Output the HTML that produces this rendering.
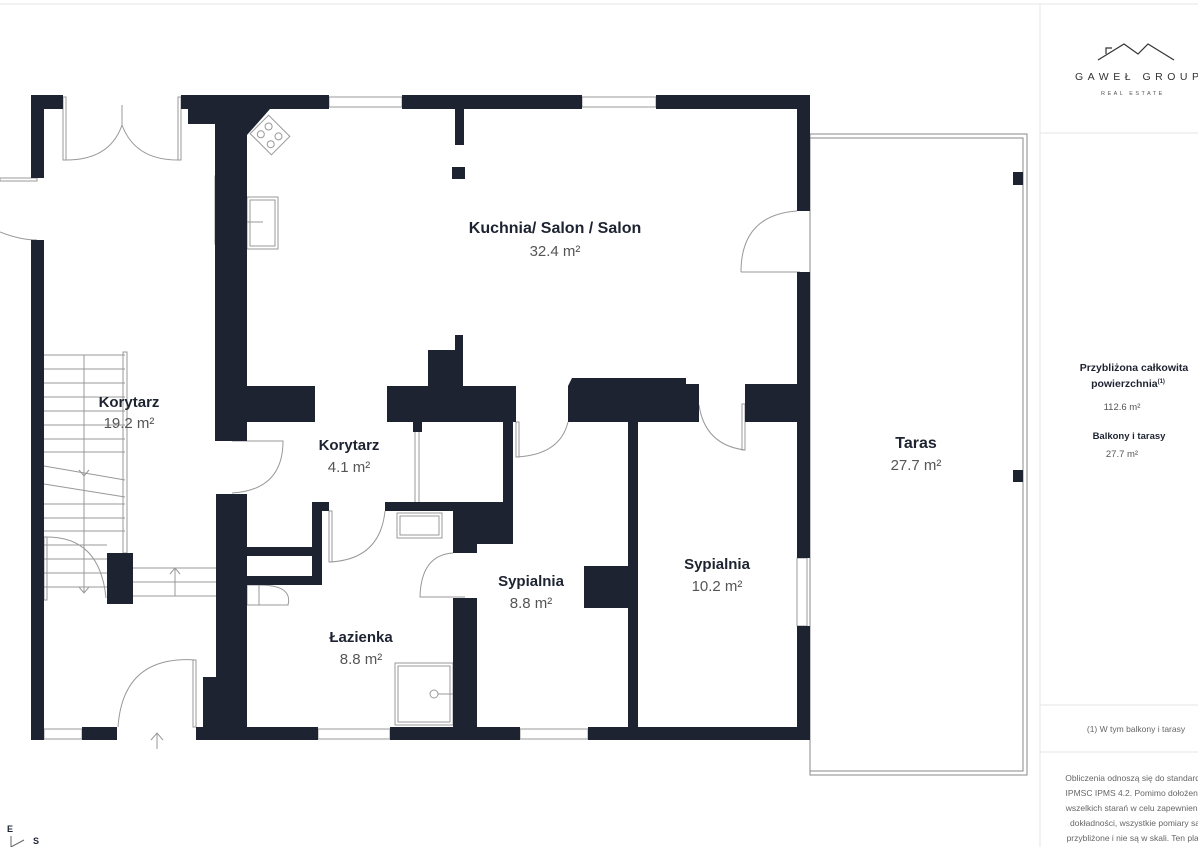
<!DOCTYPE html>
<html><head><meta charset="utf-8"><style>
html,body{margin:0;padding:0;background:#fff;width:1198px;height:847px;overflow:hidden}
svg{display:block}
text{font-family:"Liberation Sans",sans-serif}
</style></head><body>
<svg width="1198" height="847" viewBox="0 0 1198 847" xmlns="http://www.w3.org/2000/svg">
<rect width="1198" height="847" fill="#fff"/>
<line x1="0" y1="4" x2="1198" y2="4" stroke="#e6e6e6"/>
<!-- right panel -->
<line x1="1040" y1="4" x2="1040" y2="847" stroke="#e6e6e6"/>
<line x1="1040" y1="133" x2="1198" y2="133" stroke="#e6e6e6"/>
<line x1="1040" y1="705" x2="1198" y2="705" stroke="#e6e6e6"/>
<line x1="1040" y1="752" x2="1198" y2="752" stroke="#e6e6e6"/>
<polyline points="1098,60 1124,44 1138,54 1148,44 1174,60" fill="none" stroke="#333" stroke-width="1.2"/>
<polyline points="1106,54 1106,48 1112,48" fill="none" stroke="#333" stroke-width="1.2"/>
<text x="1075" y="80" font-size="10.5" fill="#333" letter-spacing="4.5">GAWEŁ GROUP</text>
<text x="1101" y="95" font-size="5.5" fill="#555" letter-spacing="2.5">REAL ESTATE</text>
<g font-size="10.5" fill="#1d2330" text-anchor="middle">
<text x="1134" y="371" font-weight="bold">Przybliżona całkowita</text>
<text x="1128" y="387" font-weight="bold">powierzchnia<tspan font-size="6" dy="-4">(1)</tspan></text>
<text x="1122" y="410" font-size="9.5" fill="#555">112.6 m²</text>
<text x="1129" y="439" font-size="9.5" font-weight="bold">Balkony i tarasy</text>
<text x="1122" y="457" font-size="9.5" fill="#555">27.7 m²</text>
<text x="1136" y="732" font-size="8.5" fill="#666">(1) W tym balkony i tarasy</text>
<g font-size="8.5" fill="#666">
<text x="1135" y="781">Obliczenia odnoszą się do standardu</text>
<text x="1135" y="796">IPMSC IPMS 4.2. Pomimo dołożenia</text>
<text x="1135" y="811">wszelkich starań w celu zapewnienia</text>
<text x="1135" y="826">dokładności, wszystkie pomiary są</text>
<text x="1135" y="841">przybliżone i nie są w skali. Ten plan</text>
<text x="1135" y="856">piętra ma charakter poglądowy</text>
</g></g>
<!-- terrace -->
<rect x="810" y="134" width="217" height="641" fill="none" stroke="#888" stroke-width="1"/>
<rect x="810" y="138" width="213" height="633" fill="none" stroke="#888" stroke-width="1"/>
<rect x="1013" y="172" width="10" height="13" fill="#1d2330"/>
<rect x="1013" y="470" width="10" height="12" fill="#1d2330"/>
<!-- light window/door lines -->
<g fill="none" stroke="#999" stroke-width="1">
<rect x="0" y="178" width="37" height="3"/>
<rect x="63" y="97" width="3" height="63"/><rect x="178" y="97" width="3" height="63"/>
<path d="M66 160 Q110 160 122 125 L122 105"/><path d="M178 160 Q135 160 122 125"/>
<path d="M0 232 Q20 240 37 240"/>
<rect x="329" y="97" width="73" height="10"/><rect x="582" y="97" width="74" height="10"/>
<rect x="215" y="176" width="6" height="68"/>
<rect x="797" y="558" width="10" height="68"/>
<rect x="44" y="729" width="38" height="10"/><rect x="318" y="729" width="72" height="10"/><rect x="520" y="729" width="68" height="10"/>
<path d="M741 272 Q741 215 797 211"/><line x1="741" y1="272" x2="800" y2="272"/>
<path d="M232 441 L283 441 Q283 490 232 493"/>
<path d="M196 660 Q123 655 118 727"/><rect x="193" y="660" width="3" height="67"/>
<path d="M329 511 L329 562 Q380 560 385 511"/><rect x="329" y="511" width="3" height="51"/>
<path d="M453 553 Q421 555 420 597 L465 597"/>
<path d="M516 422 L516 457 Q560 455 568 422"/><rect x="516" y="422" width="3" height="35"/>
<path d="M699 405 Q705 445 745 450"/><rect x="742" y="404" width="3" height="46"/>
<line x1="415" y1="422" x2="415" y2="502"/><line x1="419" y1="422" x2="419" y2="502"/>
<rect x="397" y="513" width="45" height="25"/><rect x="400" y="516" width="39" height="19"/>
<rect x="395" y="663" width="58" height="62"/><rect x="398" y="666" width="52" height="56"/>
<circle cx="434" cy="694" r="4"/><line x1="438" y1="694" x2="453" y2="694"/>
<rect x="247" y="197" width="31" height="52"/><rect x="250" y="200" width="25" height="46"/>
<line x1="247" y1="222" x2="263" y2="222"/>
<rect x="247" y="585" width="12" height="20"/><path d="M259 585 Q293 585 288 605 L259 605"/>
<g transform="rotate(45 270 135)"><rect x="255" y="122" width="30" height="26"/><circle cx="263" cy="130" r="3.5"/><circle cx="277" cy="130" r="3.5"/><circle cx="263" cy="141" r="3.5"/><circle cx="277" cy="141" r="3.5"/></g>
<!-- stairs -->
<g stroke="#999">
<line x1="44" y1="355" x2="125" y2="355"/><line x1="44" y1="369" x2="125" y2="369"/><line x1="44" y1="383" x2="125" y2="383"/>
<line x1="44" y1="397" x2="125" y2="397"/><line x1="44" y1="411" x2="125" y2="411"/><line x1="44" y1="425" x2="125" y2="425"/>
<line x1="44" y1="439" x2="125" y2="439"/><line x1="44" y1="452" x2="125" y2="452"/><line x1="44" y1="466" x2="125" y2="480"/>
<line x1="44" y1="484" x2="125" y2="497"/><line x1="44" y1="504" x2="125" y2="504"/><line x1="44" y1="518" x2="125" y2="518"/>
<line x1="44" y1="531" x2="125" y2="531"/><line x1="44" y1="545" x2="107" y2="545"/><line x1="44" y1="559" x2="107" y2="559"/>
<line x1="44" y1="573" x2="107" y2="573"/><line x1="44" y1="587" x2="107" y2="587"/>
<line x1="84" y1="355" x2="84" y2="593"/>
<line x1="133" y1="568" x2="216" y2="568"/><line x1="133" y1="582" x2="216" y2="582"/><line x1="133" y1="596" x2="216" y2="596"/>
<line x1="175" y1="568" x2="175" y2="596"/>
</g>
<rect x="123" y="352" width="4" height="201"/>
<rect x="44" y="537" width="3" height="63"/>
<path d="M47 537 Q100 537 106 598"/>
<polyline points="79,470 84,476 89,470"/><polyline points="79,587 84,593 89,587"/>
<polyline points="170,574 175,568 180,574"/>
<polyline points="151,740 157,733 163,740"/><line x1="157" y1="733" x2="157" y2="749"/>
</g>
<!-- walls -->
<g fill="#1d2330">
<rect x="31" y="95" width="13" height="83"/><rect x="31" y="95" width="32" height="14"/>
<rect x="31" y="240" width="13" height="500"/>
<rect x="181" y="95" width="148" height="14"/><rect x="402" y="95" width="180" height="14"/><rect x="656" y="95" width="154" height="14"/>
<rect x="188" y="95" width="27" height="29"/>
<polygon points="215,95 270,95 270,109 247,135 247,441 215,441"/>
<rect x="797" y="95" width="13" height="116"/><rect x="797" y="272" width="13" height="286"/><rect x="797" y="626" width="13" height="114"/>
<rect x="216" y="494" width="31" height="246"/><rect x="203" y="677" width="14" height="63"/>
<rect x="31" y="727" width="13" height="13"/><rect x="82" y="727" width="35" height="13"/>
<rect x="196" y="727" width="122" height="13"/><rect x="390" y="727" width="130" height="13"/><rect x="588" y="727" width="222" height="13"/>
<rect x="455" y="109" width="9" height="36"/><rect x="452" y="167" width="13" height="12"/>
<rect x="247" y="386" width="68" height="36"/>
<rect x="387" y="386" width="129" height="36"/><rect x="428" y="350" width="35" height="36"/><rect x="455" y="335" width="8" height="15"/>
<rect x="413" y="422" width="9" height="10"/>
<polygon points="572,378 686,378 686,384 699,384 699,422 568,422 568,386"/>
<rect x="745" y="384" width="52" height="38"/>
<rect x="503" y="422" width="10" height="122"/>
<rect x="453" y="502" width="60" height="42"/><rect x="453" y="544" width="24" height="9"/>
<rect x="385" y="502" width="68" height="9"/>
<rect x="312" y="502" width="17" height="9"/><rect x="312" y="502" width="10" height="83"/>
<rect x="247" y="547" width="65" height="9"/><rect x="247" y="576" width="75" height="9"/>
<rect x="453" y="598" width="24" height="129"/>
<rect x="628" y="422" width="10" height="305"/><rect x="584" y="566" width="44" height="42"/>
<rect x="107" y="553" width="26" height="51"/>
</g>
<!-- labels -->
<g text-anchor="middle" fill="#1d2330">
<text x="555" y="233" font-size="16" font-weight="bold">Kuchnia/ Salon / Salon</text>
<text x="555" y="256" font-size="15" fill="#555">32.4 m²</text>
<text x="129" y="407" font-size="15" font-weight="bold">Korytarz</text>
<text x="129" y="428" font-size="15" fill="#555">19.2 m²</text>
<text x="349" y="450" font-size="15" font-weight="bold">Korytarz</text>
<text x="349" y="472" font-size="15" fill="#555">4.1 m²</text>
<text x="916" y="448" font-size="16" font-weight="bold">Taras</text>
<text x="916" y="470" font-size="15" fill="#555">27.7 m²</text>
<text x="717" y="569" font-size="15" font-weight="bold">Sypialnia</text>
<text x="717" y="591" font-size="15" fill="#555">10.2 m²</text>
<text x="531" y="586" font-size="15" font-weight="bold">Sypialnia</text>
<text x="531" y="608" font-size="15" fill="#555">8.8 m²</text>
<text x="361" y="642" font-size="15" font-weight="bold">Łazienka</text>
<text x="361" y="664" font-size="15" fill="#555">8.8 m²</text>
<text x="10" y="832" font-size="9" font-weight="bold">E</text>
<text x="36" y="844" font-size="9" font-weight="bold">S</text>
</g>
<g stroke="#666"><line x1="11" y1="836" x2="11" y2="847"/><line x1="11" y1="847" x2="24" y2="840"/></g>
</svg>
</body></html>
